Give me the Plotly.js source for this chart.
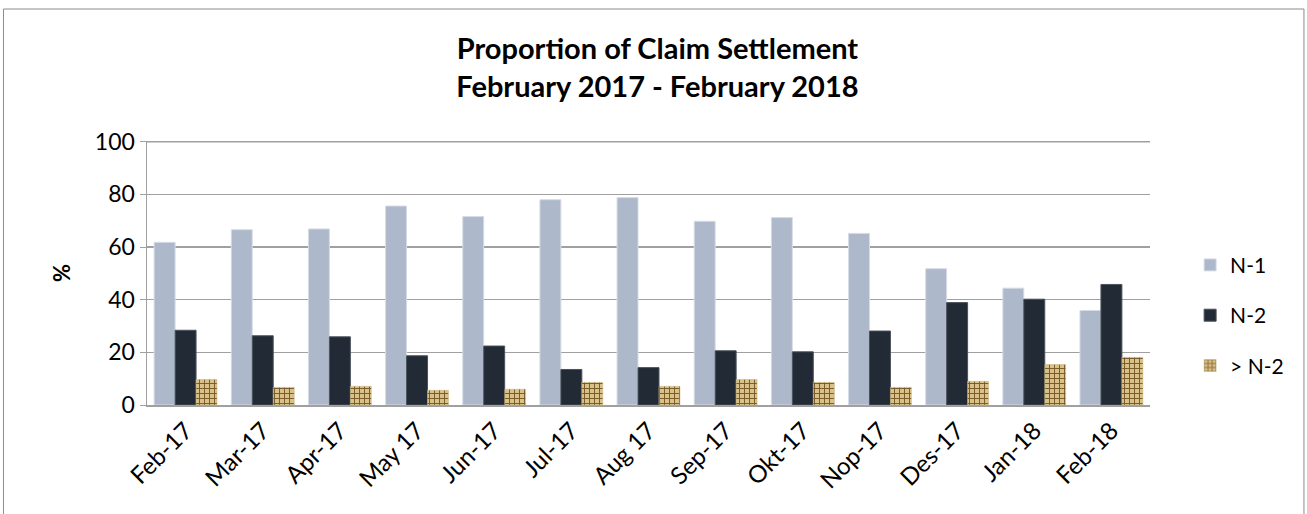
<!DOCTYPE html>
<html>
<head>
<meta charset="utf-8">
<script src="https://cdn.plot.ly/plotly-3.0.1.min.js"></script>
<style>html,body{margin:0;padding:0;background:#fff;}#chart{width:1307px;height:514px;}</style>
</head>
<body>
<div id="chart"></div>
<script>
var months = ["Feb-17","Mar-17","Apr-17","May 17","Jun-17","Jul-17","Aug 17","Sep-17","Okt-17","Nop-17","Des-17","Jan-18","Feb-18"];
var n1 = [61.8, 66.6, 66.9, 75.6, 71.6, 78.0, 78.8, 69.8, 71.2, 65.2, 51.8, 44.4, 35.9];
var n2 = [28.4, 26.3, 25.9, 18.7, 22.4, 13.5, 14.2, 20.6, 20.2, 28.1, 38.9, 40.2, 45.8];
var over = [9.7, 6.7, 7.1, 5.6, 6.0, 8.6, 7.1, 9.7, 8.6, 6.7, 9.0, 15.4, 18.1];
var seriesNames = ["N-1", "N-2", "> N-2"];
var yTicks = [0, 20, 40, 60, 80, 100];

var FONT = "Lato, 'Open Sans', sans-serif";

var traces = [
  {type:'bar', name:seriesNames[0], x:months, y:n1, legendgroup:'a',
   marker:{color:'#adb8ca', line:{color:'#d6dce6', width:1}}},
  {type:'bar', name:seriesNames[1], x:months, y:n2, legendgroup:'b',
   marker:{color:'#222a35', line:{color:'#4a525d', width:1}}},
  {type:'bar', name:seriesNames[2], x:months, y:over, legendgroup:'c',
   marker:{color:'#d8c38e', line:{color:'#c9b47c', width:0.5},
     pattern:{shape:'+', bgcolor:'#d9c28a', fgcolor:'#7a5a28', size:5, solidity:0.35, fillmode:'replace'}}}
];

var layout = {
  width:1307, height:514,
  paper_bgcolor:'#ffffff', plot_bgcolor:'#ffffff',
  margin:{l:147, r:157, t:141, b:109},
  font:{family:FONT, size:21, color:'#000'},
  title:{text:'<b>Proportion of Claim Settlement<br>February 2017 - February 2018</b>',
    font:{family:FONT, size:29, color:'#000'},
    x:0.503, xanchor:'center', xref:'container', y:0.885, yanchor:'top', yref:'container'},
  barmode:'group', bargap:0.185, bargroupgap:0,
  xaxis:{type:'category', tickangle:-45, showgrid:false, showline:true, linecolor:'#a0a0a0', linewidth:2,
    ticks:'', tickfont:{family:FONT, size:24, color:'#000'}, fixedrange:true},
  yaxis:{range:[0,100.3], tickvals:yTicks, ticktext:yTicks.map(String), showgrid:true, gridcolor:'#a0a0a0', gridwidth:1.5,
    showline:true, linecolor:'#a0a0a0', linewidth:1.5, ticks:'outside', ticklen:6, tickcolor:'#a0a0a0',
    tickfont:{family:FONT, size:23, color:'#000'}, zeroline:false,
    title:{text:'<b>%</b>', font:{family:FONT, size:22, color:'#000'}, standoff:18}},
  legend:{x:1.04, xanchor:'left', y:0.34, yanchor:'middle', font:{family:FONT, size:21, color:'#000'},
    tracegroupgap:20, itemwidth:30, bgcolor:'rgba(0,0,0,0)'},
  showlegend:true,
  shapes:[
    {type:'rect', xref:'paper', yref:'paper', x0:-0.1431, x1:1.1535, y0:-0.45, y1:1.5,
     line:{color:'#8c8c8c', width:1}, fillcolor:'rgba(0,0,0,0)', layer:'below'},
    {type:'line', xref:'paper', yref:'y', x0:0, x1:1, y0:yTicks[yTicks.length-1], y1:yTicks[yTicks.length-1],
     line:{color:'#a0a0a0', width:1.5}, layer:'below'}
  ]
};

Plotly.newPlot('chart', traces, layout, {displayModeBar:false, staticPlot:true});
</script>
</body>
</html>
